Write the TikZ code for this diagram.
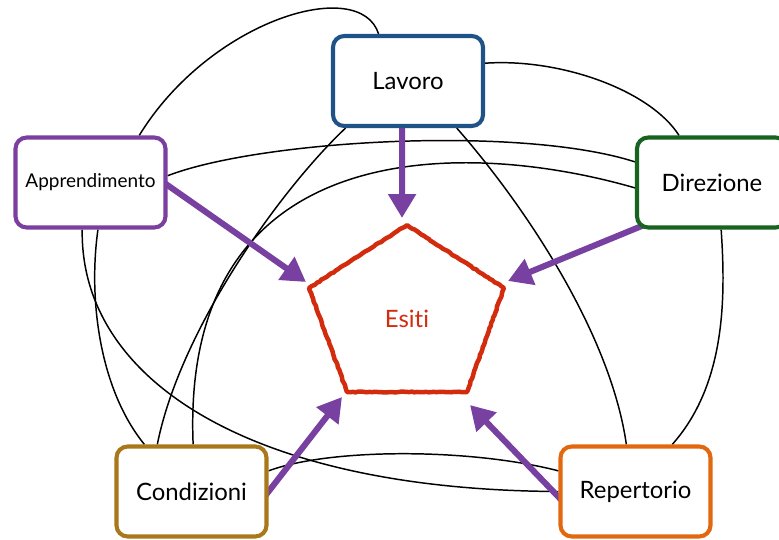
\documentclass[tikz,border=0pt]{standalone}
\usepackage{fontspec}
\setmainfont{Lato}[Ligatures={NoCommon}]
\usetikzlibrary{arrows.meta,backgrounds,decorations.pathmorphing}

\definecolor{lavoroblu}{HTML}{1F5287}
\definecolor{apprviola}{HTML}{7B3FA0}
\definecolor{direzverde}{HTML}{17631F}
\definecolor{condizoro}{HTML}{A8781A}
\definecolor{repertarancio}{HTML}{E2680F}
\definecolor{frecciaviola}{HTML}{7840A0}
\definecolor{esitirosso}{HTML}{D22B0E}

\tikzset{
  area/.style={draw=#1, line width=2.9pt, rounded corners=8pt, fill=white,
    minimum width=3.75cm, minimum height=2.25cm, font=\fontsize{17}{20}\selectfont},
  legame/.style={black, line width=1.05pt},
  freccia/.style={frecciaviola, line width=4.3pt, shorten <=-4pt,
    -{Triangle[length=17pt,width=19pt]}},
}

\begin{document}
\begin{tikzpicture}[x=0.025cm, y=-0.025cm]
  \useasboundingbox (0,0) rectangle (779,540);

  \node[area=lavoroblu] (lavoro) at (408,81) {Lavoro};
  \node[area=apprviola, font=\fontsize{13.5}{16}\selectfont] (appr) at (90.5,182.5) {Apprendimento};
  \node[area=direzverde] (direz) at (712,182.5) {Direzione};
  \node[area=condizoro] (condiz) at (191.5,491.5) {Condizioni};
  \node[area=repertarancio] (repert) at (635.5,491.5) {Repertorio};

  % pentagono
  \coordinate (p1) at (407,225);
  \coordinate (p2) at (309,288);
  \coordinate (p3) at (347,392);
  \coordinate (p4) at (467,392);
  \coordinate (p5) at (504,288);
  \draw[esitirosso, line width=3.2pt, line join=round,
    decorate, decoration={random steps, segment length=2pt, amplitude=0.35pt}]
    (p1) -- (p2) -- (p3) -- (p4) -- (p5) -- cycle;
  \node[text=esitirosso, font=\fontsize{17}{20}\selectfont] (esiti) at (407,319) {Esiti};

  \coordinate (tipL) at (402,218);
  \coordinate (tipA) at (306,282);
  \coordinate (tipD) at (508,281);
  \coordinate (tipC) at (342,397);
  \coordinate (tipR) at (470,405);

  \begin{scope}[on background layer]
    \draw[legame] (appr.44) .. controls (210,20) and (360,-25) .. (lavoro.122);
    \draw[legame] (lavoro.13) .. controls (560,58) and (650,90) .. (direz.125);
    \draw[legame] (appr.5) .. controls (260,140) and (520,125) .. (direz.165);
    \draw[legame] (direz.184) .. controls (470,140) and (180,130) .. (condiz.88);
    \draw[legame] (lavoro.217) .. controls (280,190) and (180,330) .. (condiz.126);
    \draw[legame] (lavoro.316) .. controls (520,200) and (610,330) .. (repert.101);
    \draw[legame] (direz.281) .. controls (726,300) and (725,385) .. (repert.52);
    \draw[legame] (appr.279) .. controls (88,300) and (100,390) .. (condiz.135);
    \draw[legame] (appr.260) .. controls (80,380) and (250,490) .. (repert.west);
    \draw[legame] (condiz.15) .. controls (330,448) and (470,448) .. (repert.165);

    \draw[freccia] (lavoro.263) -- (tipL);
    \draw[freccia] (appr.358) -- (tipA);
    \draw[freccia, shorten <=-8pt] (direz.211) -- (tipD);
    \draw[freccia] (condiz.east) -- (tipC);
    \draw[freccia] (repert.184) -- (tipR);
  \end{scope}
\end{tikzpicture}
\end{document}
